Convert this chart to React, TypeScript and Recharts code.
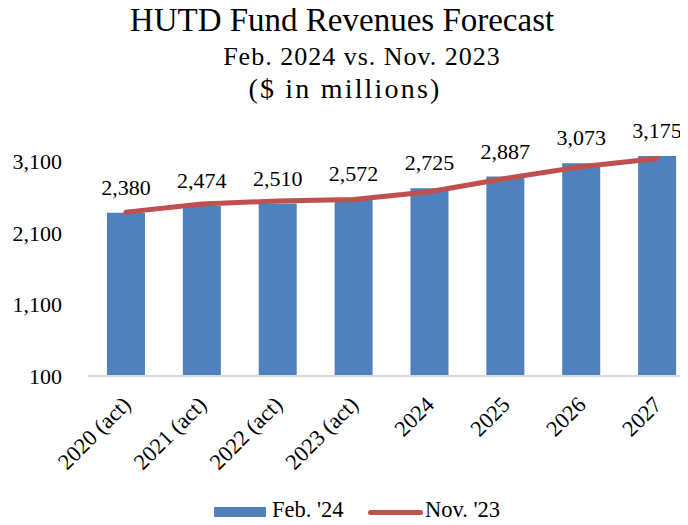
import React from 'react';
import { ComposedChart, Bar, Line, XAxis, YAxis, LabelList, Legend } from 'recharts';

const categories = ['2020 (act)', '2021 (act)', '2022 (act)', '2023 (act)', '2024', '2025', '2026', '2027'];
const feb24 = [2380, 2474, 2510, 2572, 2725, 2887, 3073, 3175];
const nov23 = [2390, 2505, 2545, 2565, 2675, 2860, 3025, 3140];
const yTicks = [100, 1100, 2100, 3100];

const data = categories.map((c, i) => ({ name: c, feb: feb24[i], nov: nov23[i] }));

const FONT = '"Liberation Serif", "Times New Roman", serif';
const fmt = (v: any) => Number(v).toLocaleString('en-US');

const XTick = (props: any) => {
  const { x, y, payload } = props;
  return (
    <g transform={`translate(${x + 6},${y + 30})`}>
      <text x={0} y={0} textAnchor="end" transform="rotate(-45)" fontSize={22.5} fontFamily={FONT} fill="#000">
        {payload.value}
      </text>
    </g>
  );
};

const LegendContent = () => (
  <div style={{ position: 'relative', width: 688, height: 27, fontFamily: FONT, fontSize: 22.5, lineHeight: 1, color: '#000' }}>
    <div style={{ position: 'absolute', left: 214, top: 9, width: 52, height: 11, background: '#4F81BD' }} />
    <div style={{ position: 'absolute', left: 272, top: 1, whiteSpace: 'nowrap' }}>Feb. '24</div>
    <div style={{ position: 'absolute', left: 368, top: 12, width: 55, height: 5, borderRadius: 3, background: '#C0504D' }} />
    <div style={{ position: 'absolute', left: 425, top: 1, whiteSpace: 'nowrap' }}>Nov. '23</div>
  </div>
);

const titleLine = (text: string, center: number, top: number, size: number, ls = 0) => (
  <div
    style={{
      position: 'absolute',
      left: center - 340,
      width: 680,
      top,
      textAlign: 'center',
      fontFamily: FONT,
      fontSize: size,
      lineHeight: 1,
      letterSpacing: ls,
      color: '#000',
      whiteSpace: 'nowrap',
    }}
  >
    {text}
  </div>
);

export default function App() {
  return (
    <div style={{ margin: -8, width: 688, height: 525, overflow: 'hidden', position: 'relative', background: '#fff' }}>
      <ComposedChart
        width={696}
        height={525}
        data={data}
        margin={{ top: 147, right: 1, bottom: 0, left: 0 }}
        barCategoryGap="25%"
      >
        <XAxis
          dataKey="name"
          interval={0}
          height={122}
          tickLine={false}
          tickSize={0}
          tickMargin={0}
          axisLine={{ stroke: '#D9D9D9', strokeWidth: 2 }}
          tick={<XTick />}
        />
        <YAxis
          width={88}
          domain={[100, 3300]}
          ticks={yTicks}
          axisLine={false}
          tickLine={false}
          tickSize={0}
          tickMargin={26}
          tickFormatter={fmt}
          tick={{ fontSize: 22, fontFamily: FONT, fill: '#000' }}
        />
        <Legend
          verticalAlign="bottom"
          height={27}
          content={<LegendContent />}
          wrapperStyle={{ left: 0, width: 688, height: 27 }}
        />
        <Bar dataKey="feb" name="Feb. '24" fill="#4F81BD" isAnimationActive={false}>
          <LabelList dataKey="feb" position="top" offset={18} formatter={fmt} fontSize={22} fontFamily={FONT} fill="#000" />
        </Bar>
        <Line
          dataKey="nov"
          name="Nov. '23"
          type="linear"
          stroke="#C0504D"
          strokeWidth={5}
          strokeLinecap="round"
          strokeLinejoin="round"
          dot={false}
          activeDot={false}
          isAnimationActive={false}
        />
      </ComposedChart>
      {titleLine('HUTD Fund Revenues Forecast', 342, 4, 33)}
      {titleLine('Feb. 2024 vs. Nov. 2023', 362, 44, 26, 1)}
      {titleLine('($ in millions)', 345, 75, 28, 2.2)}
    </div>
  );
}
